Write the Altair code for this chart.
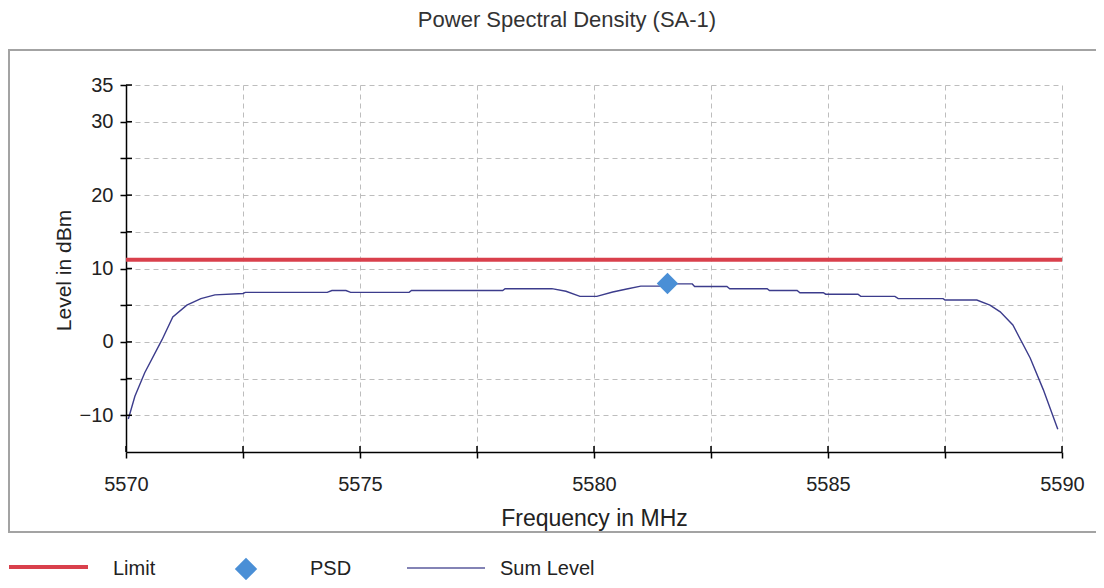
import altair as alt
import pandas as pd

# ---- data ----
freq_mhz = [5570.05, 5570.19, 5570.4, 5570.77, 5571.0, 5571.3, 5571.6, 5571.9,
            5572.5, 5572.55, 5574.3, 5574.4, 5574.7, 5574.8, 5576.05, 5576.1,
            5578.05, 5578.1, 5579.1, 5579.4, 5579.7, 5580.06, 5580.4, 5580.7,
            5581.0, 5581.4, 5581.6, 5582.1, 5582.15, 5582.84, 5582.9, 5583.7,
            5583.75, 5584.34, 5584.4, 5584.9, 5584.95, 5585.64, 5585.7, 5586.43,
            5586.5, 5587.46, 5587.5, 5588.18, 5588.46, 5588.68, 5588.95, 5589.32,
            5589.6, 5589.91]
sum_level_dbm = [-10.5, -7.4, -4.2, 0.3, 3.4, 5.0, 5.9, 6.4,
                 6.6, 6.75, 6.75, 7.0, 7.0, 6.75, 6.75, 7.0,
                 7.0, 7.25, 7.25, 6.9, 6.2, 6.2, 6.8, 7.2,
                 7.6, 7.6, 7.9, 7.9, 7.55, 7.55, 7.25, 7.25,
                 7.0, 7.0, 6.7, 6.7, 6.5, 6.5, 6.2, 6.2,
                 5.9, 5.9, 5.7, 5.7, 5.0, 4.1, 2.3, -2.2,
                 -6.5, -11.9]
limit_freq = [5570, 5590]
limit_dbm = [11.2, 11.2]
psd_freq = [5581.57]
psd_dbm = [7.95]
x_ticks = [5570, 5572.5, 5575, 5577.5, 5580, 5582.5, 5585, 5587.5, 5590]
y_ticks = [-10, -5, 0, 5, 10, 15, 20, 25, 30, 35]
legend_labels = ["Limit", "PSD", "Sum Level"]
chart_title = "Power Spectral Density (SA-1)"
x_title = "Frequency in MHz"
y_title = "Level in dBm"

FONT = "Liberation Sans"
RED = "#d9404c"
BLUE = "#4a8fd6"
NAVY = "#3c3c8c"
TXT = "#222222"

W, H = 936, 367

sum_df = pd.DataFrame({"freq": freq_mhz, "level": sum_level_dbm})
limit_df = pd.DataFrame({"freq": limit_freq, "level": limit_dbm})
psd_df = pd.DataFrame({"freq": psd_freq, "level": psd_dbm})
xt_df = pd.DataFrame({"freq": x_ticks})
yt_df = pd.DataFrame({"level": y_ticks})
one = pd.DataFrame({"a": [0]})

xs = alt.Scale(domain=[5570, 5590], nice=False, zero=False)
ys = alt.Scale(domain=[-15, 35], nice=False, zero=False)

x_axis = alt.Axis(
    values=x_ticks, format="d",
    labelExpr="datum.value % 5 === 0 ? datum.label : ''",
    title=x_title, titleFontSize=23, titleFontWeight="normal", titleFont=FONT,
    titleColor=TXT, titleY=73, titleBaseline="alphabetic",
    tickSize=6, labelPadding=16, labelFontSize=20, labelFont=FONT, labelColor=TXT,
    labelFlush=False, labelOverlap=False,
    grid=True,
)
y_axis = alt.Axis(
    values=y_ticks,
    labelExpr="(datum.value % 10 === 0 || datum.value === 35) ? datum.label : ''",
    title=y_title, titleFontSize=21, titleFontWeight="normal", titleFont=FONT,
    titleColor=TXT, titleX=-56, titleY=185, titleAngle=270, titleAlign="center",
    titleBaseline="alphabetic",
    tickSize=6, labelPadding=7, labelFontSize=20, labelFont=FONT, labelColor=TXT,
    labelFlush=False, labelOverlap=False,
    grid=True,
)

def X(field="freq"):
    return alt.X(f"{field}:Q", scale=xs, axis=x_axis, title=x_title)

def Y(field="level"):
    return alt.Y(f"{field}:Q", scale=ys, axis=y_axis, title=y_title)

box = alt.Chart(one).mark_rect(filled=False, stroke="#a3a3a3", strokeWidth=2).encode(
    x=alt.value(-117), x2=alt.value(1010), y=alt.value(-35), y2=alt.value(447)
)

title = alt.Chart(one).mark_text(
    font=FONT, fontSize=22, color="#333333", align="center", baseline="alphabetic"
).encode(x=alt.value(441), y=alt.value(-58), text=alt.value(chart_title))

sum_line = alt.Chart(sum_df).mark_line(color=NAVY, strokeWidth=1.4).encode(
    x=X(), y=Y()
)

limit_line = alt.Chart(limit_df).mark_line(color=RED, strokeWidth=4).encode(
    x=X(), y=Y()
)

psd_pt = alt.Chart(psd_df).mark_point(
    shape="diamond", filled=True, color=BLUE, size=460, opacity=1
).encode(x=X(), y=Y())

x_in_ticks = alt.Chart(xt_df).mark_rule(color="black", strokeWidth=1.5).encode(
    x=X(), y=alt.value(H), y2=alt.value(H - 6)
)
y_in_ticks = alt.Chart(yt_df).mark_rule(color="black", strokeWidth=1.5).encode(
    y=Y(), x=alt.value(0), x2=alt.value(6)
)

# manual legend
lg_y = 484
leg_limit = alt.Chart(one).mark_rule(color=RED, strokeWidth=4).encode(
    x=alt.value(-117), x2=alt.value(-38), y=alt.value(lg_y - 2)
)
leg_limit_t = alt.Chart(one).mark_text(
    font=FONT, fontSize=20, color=TXT, align="left", baseline="middle"
).encode(x=alt.value(-13), y=alt.value(lg_y), text=alt.value(legend_labels[0]))
leg_psd = alt.Chart(one).mark_point(
    shape="diamond", filled=True, color=BLUE, size=500, opacity=1
).encode(x=alt.value(120), y=alt.value(lg_y))
leg_psd_t = alt.Chart(one).mark_text(
    font=FONT, fontSize=20, color=TXT, align="left", baseline="middle"
).encode(x=alt.value(184), y=alt.value(lg_y), text=alt.value(legend_labels[1]))
leg_sum = alt.Chart(one).mark_rule(color="#5a5a9c", strokeWidth=1.6).encode(
    x=alt.value(281), x2=alt.value(359), y=alt.value(lg_y - 1)
)
leg_sum_t = alt.Chart(one).mark_text(
    font=FONT, fontSize=20, color=TXT, align="left", baseline="middle"
).encode(x=alt.value(374), y=alt.value(lg_y), text=alt.value(legend_labels[2]))

chart = alt.layer(
    box, title, sum_line, limit_line, psd_pt, x_in_ticks, y_in_ticks,
    leg_limit, leg_limit_t, leg_psd, leg_psd_t, leg_sum, leg_sum_t,
).properties(
    width=W, height=H,
    autosize=alt.AutoSizeParams(type="none"),
    padding={"left": 118, "top": 77, "right": 34, "bottom": 128},
    background="white",
).configure_view(stroke=None).configure_axis(
    domainColor="black", domainWidth=1.5, tickColor="black", tickWidth=1.5,
    gridColor="#bdbdbd", gridDash=[5, 4], gridWidth=1,
)

chart.save("out.html", embed_options={"renderer": "svg", "actions": False})
